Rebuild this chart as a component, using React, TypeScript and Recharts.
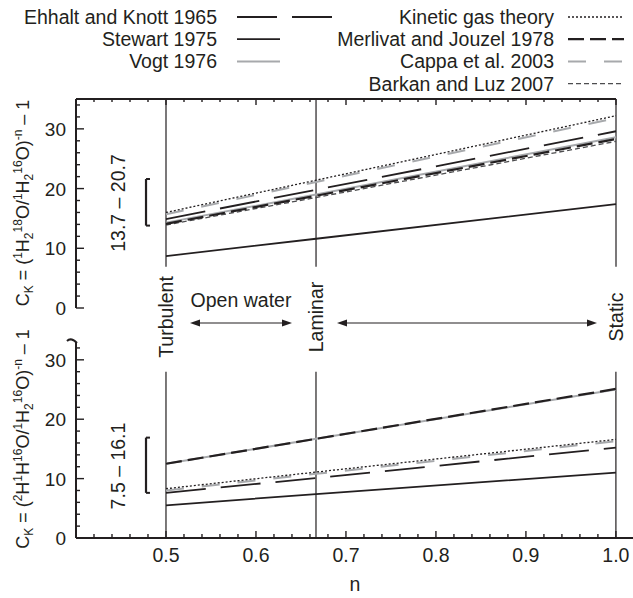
import React from 'react';
import { LineChart, Line, XAxis, YAxis, ReferenceLine } from 'recharts';

const nPoints = [0.5, 0.6667, 1.0];

// top panel: 18O (per mil)
const ehhalt18 = [14.9, 19.8, 29.6];
const stewart18 = [8.7, 11.6, 17.4];
const vogt18 = [14.3, 19.0, 28.6];
const kinetic18 = [16.0, 21.4, 32.2];
const merlivat18 = [14.1, 18.8, 28.3];
const cappa18 = [15.7, 21.1, 31.8];
const barkan18 = [13.9, 18.5, 27.9];

// bottom panel: 2H (per mil)
const ehhaltD = [7.6, 10.1, 15.2];
const stewartD = [5.5, 7.4, 11.0];
const vogtD = [12.5, 16.7, 25.0];
const kineticD = [8.3, 11.1, 16.6];
const merlivatD = [12.5, 16.7, 25.1];
const cappaD = [8.0, 10.8, 16.3];

const regimes = [
  { n: 0.5, label: 'Turbulent' },
  { n: 0.6667, label: 'Laminar' },
  { n: 1.0, label: 'Static' },
];

const bracketTop = [13.8, 21.6];
const bracketBottom = [7.6, 16.9];
const bracketTopLabel = '13.7 – 20.7';
const bracketBottomLabel = '7.5 – 16.1';

const xTicks = [
  0.42, 0.44, 0.46, 0.48, 0.5, 0.52, 0.54, 0.56, 0.58, 0.6, 0.62, 0.64, 0.66, 0.68, 0.7,
  0.72, 0.74, 0.76, 0.78, 0.8, 0.82, 0.84, 0.86, 0.88, 0.9, 0.92, 0.94, 0.96, 0.98, 1.0,
];
const topYTicks = [0, 2, 4, 6, 8, 10, 12, 14, 16, 18, 20, 22, 24, 26, 28, 30, 32, 34];
const bottomYTicks = [0, 2, 4, 6, 8, 10, 12, 14, 16, 18, 20, 22, 24, 26, 28, 30, 32];

const INK = '#231f20';
const GRAY = '#a7a9ac';
const FONT = '"Liberation Sans", Arial, Helvetica, sans-serif';
const FS = 19.5;

const series = [
  { key: 'vogt', name: 'Vogt 1976', color: GRAY, dash: undefined, width: 2 },
  { key: 'cappa', name: 'Cappa et al. 2003', color: GRAY, dash: '18 18', width: 2 },
  { key: 'barkan', name: 'Barkan and Luz 2007', color: '#4d4d4f', dash: '5 3', width: 1.3 },
  { key: 'stewart', name: 'Stewart 1975', color: INK, dash: undefined, width: 1.8 },
  { key: 'ehhalt', name: 'Ehhalt and Knott 1965', color: INK, dash: '40 15', width: 1.8 },
  { key: 'merlivat', name: 'Merlivat and Jouzel 1978', color: INK, dash: '16 6', width: 2.2 },
  { key: 'kinetic', name: 'Kinetic gas theory', color: INK, dash: '2 2', width: 1.3 },
];

const topRows = nPoints.map((n, i) => ({
  n,
  ehhalt: ehhalt18[i],
  stewart: stewart18[i],
  vogt: vogt18[i],
  kinetic: kinetic18[i],
  merlivat: merlivat18[i],
  cappa: cappa18[i],
  barkan: barkan18[i],
}));

const bottomRows = nPoints.map((n, i) => ({
  n,
  ehhalt: ehhaltD[i],
  stewart: stewartD[i],
  vogt: vogtD[i],
  kinetic: kineticD[i],
  merlivat: merlivatD[i],
  cappa: cappaD[i],
}));

// layout (pixels)
const PLOT_LEFT = 76;
const PX_PER_N = 900;
const xPix = (n: number) => PLOT_LEFT + (n - 0.4) * PX_PER_N;

const isMajorX = (v: number) => Math.abs(v * 10 - Math.round(v * 10)) < 1e-6;

function TopXTick({ x, y, payload }: any) {
  const major = isMajorX(payload.value);
  return <line x1={x} x2={x} y1={y} y2={y + (major ? 6 : 3)} stroke={INK} strokeWidth={1.4} />;
}

function BottomXTick({ x, y, payload }: any) {
  const v = payload.value;
  const major = isMajorX(v);
  return (
    <g>
      <line x1={x} x2={x} y1={y} y2={y - (major ? 7 : 4)} stroke={INK} strokeWidth={1.4} />
      {major && v >= 0.5 && (
        <text x={x} y={y + 24} textAnchor="middle" fontSize={FS} fill={INK} fontFamily={FONT}>
          {v.toFixed(1)}
        </text>
      )}
    </g>
  );
}

function YTick({ x, y, payload }: any) {
  const v = payload.value;
  const major = v % 10 === 0;
  return (
    <g>
      <line x1={x} x2={x + (major ? 8 : 4)} y1={y} y2={y} stroke={INK} strokeWidth={1.4} />
      {major && (
        <text x={x - 10} y={y + 7} textAnchor="end" fontSize={19} fill={INK} fontFamily={FONT}>
          {v}
        </text>
      )}
    </g>
  );
}

type Seg = { t: string; s?: 'sup' | 'sub' };
const topTitle: Seg[] = [
  { t: 'C' }, { t: 'K', s: 'sub' }, { t: ' = (' }, { t: '1', s: 'sup' }, { t: 'H' }, { t: '2', s: 'sub' },
  { t: '18', s: 'sup' }, { t: 'O/' }, { t: '1', s: 'sup' }, { t: 'H' }, { t: '2', s: 'sub' }, { t: '16', s: 'sup' },
  { t: 'O)' }, { t: '-n', s: 'sup' }, { t: ' – 1' },
];
const bottomTitle: Seg[] = [
  { t: 'C' }, { t: 'K', s: 'sub' }, { t: ' = (' }, { t: '2', s: 'sup' }, { t: 'H' }, { t: '1', s: 'sup' },
  { t: 'H' }, { t: '16', s: 'sup' }, { t: 'O/' }, { t: '1', s: 'sup' }, { t: 'H' }, { t: '2', s: 'sub' },
  { t: '16', s: 'sup' }, { t: 'O)' }, { t: '-n', s: 'sup' }, { t: ' – 1' },
];

function RichVertical({ segs, x, y }: { segs: Seg[]; x: number; y: number }) {
  let shift = 0;
  return (
    <text x={x} y={y} transform={`rotate(-90 ${x} ${y})`} textAnchor="middle" fontSize={18} fill={INK} fontFamily={FONT}>
      {segs.map((sg, i) => {
        const target = sg.s === 'sup' ? -7 : sg.s === 'sub' ? 4 : 0;
        const dy = target - shift;
        shift = target;
        return (
          <tspan key={i} dy={dy} fontSize={sg.s ? 12 : 18}>
            {sg.t}
          </tspan>
        );
      })}
    </text>
  );
}

function VText({ x, y, children }: any) {
  return (
    <text x={x} y={y} transform={`rotate(-90 ${x} ${y})`} textAnchor="middle" fontSize={FS} fill={INK} fontFamily={FONT}>
      {children}
    </text>
  );
}

function Arrow({ x1, x2, y }: { x1: number; x2: number; y: number }) {
  return (
    <g>
      <line x1={x1 + 4} x2={x2 - 4} y1={y} y2={y} stroke={INK} strokeWidth={1.2} />
      <polygon points={`${x1},${y} ${x1 + 10},${y - 3.5} ${x1 + 10},${y + 3.5}`} fill={INK} />
      <polygon points={`${x2},${y} ${x2 - 10},${y - 3.5} ${x2 - 10},${y + 3.5}`} fill={INK} />
    </g>
  );
}

const legendLeft = ['ehhalt', 'stewart', 'vogt'];
const legendRight = ['kinetic', 'merlivat', 'cappa', 'barkan'];

function LegendBlock() {
  const row = (key: string, i: number, textEnd: number, x1: number, x2: number) => {
    const s = series.find((d) => d.key === key)!;
    const y = 17 + i * 22.2;
    return (
      <g key={key}>
        <text x={textEnd} y={y + 7} textAnchor="end" fontSize={FS} fill={INK} fontFamily={FONT}>
          {s.name}
        </text>
        <line x1={x1} x2={x2} y1={y} y2={y} stroke={s.color} strokeWidth={s.width} strokeDasharray={s.dash} />
      </g>
    );
  };
  return (
    <g>
      {legendLeft.map((k, i) => row(k, i, 217, 237, k === 'ehhalt' ? 333 : 280))}
      {legendRight.map((k, i) => row(k, i, 554, 568, 624))}
    </g>
  );
}

function renderLines(skip?: string) {
  return series
    .filter((s) => s.key !== skip)
    .map((s) => (
      <Line
        key={s.key}
        type="linear"
        dataKey={s.key}
        stroke={s.color}
        strokeWidth={s.width}
        strokeDasharray={s.dash}
        dot={false}
        activeDot={false}
        isAnimationActive={false}
      />
    ));
}

function bracket(vals: number[]) {
  const bx = 0.4778;
  const stub = 0.4822;
  return [
    <ReferenceLine key="bv" segment={[{ x: bx, y: vals[0] }, { x: bx, y: vals[1] }]} stroke={INK} strokeWidth={2.2} ifOverflow="visible" />,
    <ReferenceLine key="bl" segment={[{ x: bx, y: vals[0] }, { x: stub, y: vals[0] }]} stroke={INK} strokeWidth={2} ifOverflow="visible" />,
    <ReferenceLine key="bh" segment={[{ x: bx, y: vals[1] }, { x: stub, y: vals[1] }]} stroke={INK} strokeWidth={2} ifOverflow="visible" />,
  ];
}

export default function App() {
  return (
    <div style={{ position: 'absolute', left: 0, top: 0, width: 633, height: 598, background: '#fff', fontFamily: FONT }}>
      <div style={{ position: 'absolute', left: 0, top: 0 }}>
        <LineChart width={633} height={330} data={topRows} margin={{ top: 98, right: 17, bottom: 22, left: 0 }}>
          <XAxis
            type="number"
            dataKey="n"
            orientation="top"
            domain={[0.4, 1.0]}
            ticks={xTicks}
            interval={0}
            height={1}
            tickSize={0}
            tickMargin={0}
            tickLine={false}
            tick={<TopXTick />}
            axisLine={{ stroke: INK, strokeWidth: 2 }}
          />
          <YAxis
            type="number"
            domain={[0, 35]}
            ticks={topYTicks}
            interval={0}
            width={76}
            tickSize={0}
            tickMargin={0}
            tickLine={false}
            tick={<YTick />}
            axisLine={{ stroke: INK, strokeWidth: 2 }}
          />
          {regimes.map((r) => (
            <ReferenceLine key={r.label} segment={[{ x: r.n, y: 6.9 }, { x: r.n, y: 35 }]} stroke={INK} strokeWidth={1.2} ifOverflow="visible" />
          ))}
          {bracket(bracketTop)}
          {renderLines()}
        </LineChart>
      </div>
      <div style={{ position: 'absolute', left: 0, top: 330 }}>
        <LineChart width={633} height={268} data={bottomRows} margin={{ top: 12, right: 0, bottom: 59, left: 0 }}>
          <XAxis
            type="number"
            dataKey="n"
            domain={[0.4, 1.019]}
            ticks={xTicks}
            interval={0}
            height={1}
            tickSize={0}
            tickMargin={0}
            tickLine={false}
            tick={<BottomXTick />}
            axisLine={{ stroke: INK, strokeWidth: 2 }}
          />
          <YAxis
            type="number"
            domain={[0, 33]}
            ticks={bottomYTicks}
            interval={0}
            width={76}
            tickSize={0}
            tickMargin={0}
            tickLine={false}
            tick={<YTick />}
            axisLine={{ stroke: INK, strokeWidth: 2 }}
          />
          {regimes.map((r) => (
            <ReferenceLine key={r.label} segment={[{ x: r.n, y: 0 }, { x: r.n, y: 28 }]} stroke={INK} strokeWidth={1.2} ifOverflow="visible" />
          ))}
          {bracket(bracketBottom)}
          {renderLines('barkan')}
        </LineChart>
      </div>
      <svg width={633} height={598} style={{ position: 'absolute', left: 0, top: 0, pointerEvents: 'none' }}>
        <LegendBlock />
        <RichVertical segs={topTitle} x={29} y={203} />
        <RichVertical segs={bottomTitle} x={29} y={439} />
        <VText x={125} y={203}>{bracketTopLabel}</VText>
        <VText x={125} y={466}>{bracketBottomLabel}</VText>
        {regimes.map((r) => (
          <VText key={r.label} x={xPix(r.n) + 7} y={317}>
            {r.label}
          </VText>
        ))}
        <text x={(xPix(0.5) + xPix(0.6667)) / 2} y={307} textAnchor="middle" fontSize={FS} fill={INK} fontFamily={FONT}>
          Open water
        </text>
        <Arrow x1={xPix(0.5) + 24} x2={xPix(0.6667) - 24} y={323} />
        <Arrow x1={xPix(0.6667) + 21} x2={xPix(1.0) - 19} y={323} />
        <text x={355} y={591} textAnchor="middle" fontSize={FS} fill={INK} fontFamily={FONT}>
          n
        </text>
        <path d="M 67 341 Q 71 337 77 343" stroke={INK} strokeWidth={2} fill="none" />
      </svg>
    </div>
  );
}
